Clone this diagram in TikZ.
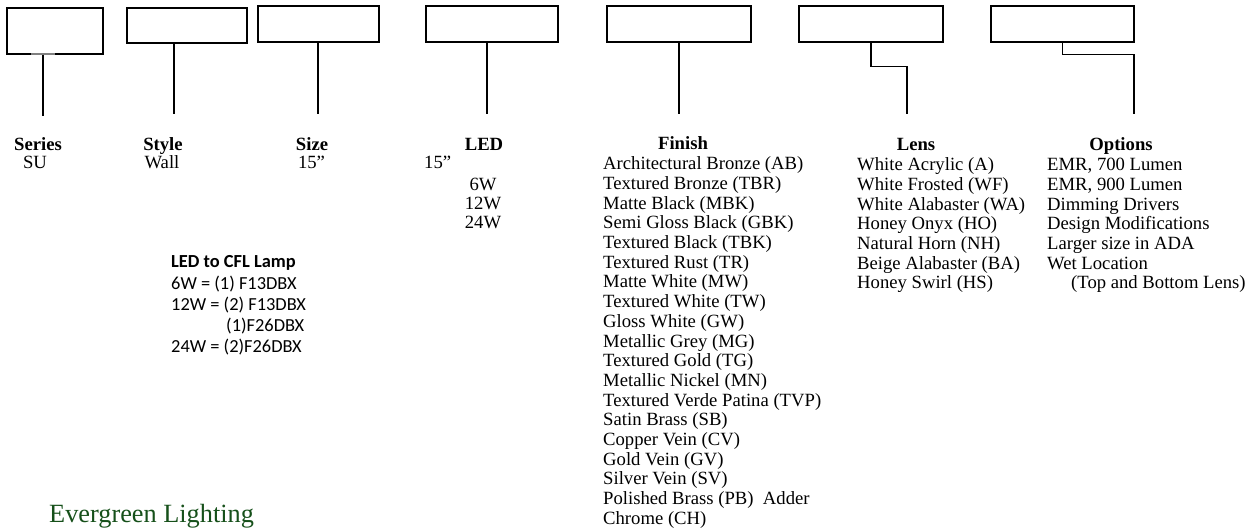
\documentclass[tikz,border=0pt]{standalone}
\usepackage{fontspec}
\setmainfont{Liberation Serif}
\newfontfamily\calfont{Carlito}
\definecolor{evergreen}{RGB}{22,80,26}
\begin{document}
\begin{tikzpicture}
	[x=1pt,y=-1pt,
	 slot/.style={draw,line width=1.3pt,inner sep=0pt,minimum height=36pt},
	 lead/.style={line width=1.7pt},
	 head/.style={anchor=base,inner sep=0pt,font=\fontsize{18.67}{19.7}\selectfont\bfseries},
	 item/.style={anchor=base west,inner sep=0pt,font=\fontsize{18.67}{19.7}\selectfont},
	 mid/.style={anchor=base,inner sep=0pt,font=\fontsize{18.67}{19.7}\selectfont},
	 lamp/.style={anchor=base west,inner sep=0pt,font=\calfont\fontsize{18.4}{20}\selectfont}]
    \useasboundingbox (0,0) rectangle (1252,529);

    % code boxes
    \node[slot,minimum width=96pt,minimum height=46pt] (bSeries) at (55,31) {};
    \node[slot,minimum width=120pt,minimum height=35pt] (bStyle) at (187,25.5) {};
    \node[slot,minimum width=121pt] (bSize) at (318.5,24) {};
    \node[slot,minimum width=132pt] (bLed) at (492,24) {};
    \node[slot,minimum width=144pt] (bFinish) at (679,24) {};
    \node[slot,minimum width=144pt] (bLens) at (871,24) {};
    \node[slot,minimum width=143pt] (bOptions) at (1062.5,24) {};
    \draw[gray,line width=2pt] (31,54) -- (55,54);

    % lead ends
    \coordinate (eSeries) at (43,116);
    \coordinate (eStyle) at (174,114);
    \coordinate (eSize) at (318,114);
    \coordinate (eLed) at (487,114);
    \coordinate (eFinish) at (679,114);
    \coordinate (eLens) at (907,114);
    \coordinate (eOptions) at (1134,114);

    \draw[lead] (bSeries.south -| eSeries) -- (eSeries);
    \draw[lead] (bStyle.south -| eStyle) -- (eStyle);
    \draw[lead] (bSize.south -| eSize) -- (eSize);
    \draw[lead] (bLed.south -| eLed) -- (eLed);
    \draw[lead] (bFinish.south) -- (eFinish);
    \draw[lead] (bLens.south) -- ++(0,24) -| (eLens);
    \draw[lead] (bOptions.south) -- ++(0,12) -| (eOptions);

    % headings
    \node[head] (hSeries) at (38,151) {Series};
    \node[mid] (vSeries) at (35,169) {SU};
    \node[head] (hStyle) at (163,151) {Style};
    \node[mid] (vStyle) at (162,169) {Wall};
    \node[head] (hSize) at (312,151) {Size};
    \node[mid] (vSize) at (311.5,169) {15”};
    \node[head] (hLed) at (484,151) {LED};
    \node[item] (vLedSize) at (424,169) {15”};
    \node[mid] (vLed1) at (483,191) {6W};
    \node[mid] (vLed2) at (483,210) {12W};
    \node[mid] (vLed3) at (483,229) {24W};
    \node[head] (hFinish) at (683,150) {Finish};
    \node[head] (hLens) at (916,151) {Lens};
    \node[head] (hOptions) at (1121,151) {Options};

    % lists
    \foreach \t [count=\i] in {Architectural Bronze (AB),Textured Bronze (TBR),Matte Black (MBK),
      Semi Gloss Black (GBK),Textured Black (TBK),Textured Rust (TR),Matte White (MW),
      Textured White (TW),Gloss White (GW),Metallic Grey (MG),Textured Gold (TG),
      Metallic Nickel (MN),Textured Verde Patina (TVP),Satin Brass (SB),Copper Vein (CV),
      Gold Vein (GV),Silver Vein (SV),Polished Brass (PB)\ \ Adder,Chrome (CH)}
      \node[item] (fin\i) at (603,150+19.7*\i) {\t};
    \foreach \t [count=\i] in {White Acrylic (A),White Frosted (WF),White Alabaster (WA),
      Honey Onyx (HO),Natural Horn (NH),Beige Alabaster (BA),Honey Swirl (HS)}
      \node[item] (lens\i) at (857,151+19.7*\i) {\t};
    \foreach \t [count=\i] in {{EMR, 700 Lumen},{EMR, 900 Lumen},Dimming Drivers,
      Design Modifications,Larger size in ADA,Wet Location}
      \node[item] (opt\i) at (1047,151+19.7*\i) {\t};
    \node[item] (opt7) at (1071,151+19.7*7) {(Top and Bottom Lens)};

    % lamp table
    \node[lamp,font=\calfont\bfseries\fontsize{18.4}{20}\selectfont] (lampHead) at (171,267) {LED to CFL Lamp};
    \node[lamp] (lamp1) at (171,289) {6W = (1) F13DBX};
    \node[lamp] (lamp2) at (171,310) {12W = (2) F13DBX};
    \node[lamp] (lamp3) at (226,331) {(1)F26DBX};
    \node[lamp] (lamp4) at (171,352) {24W = (2)F26DBX};

    \node[item,text=evergreen,font=\fontsize{26.3}{30}\selectfont] (brand) at (49,522) {Evergreen Lighting};

\end{tikzpicture}
\end{document}
